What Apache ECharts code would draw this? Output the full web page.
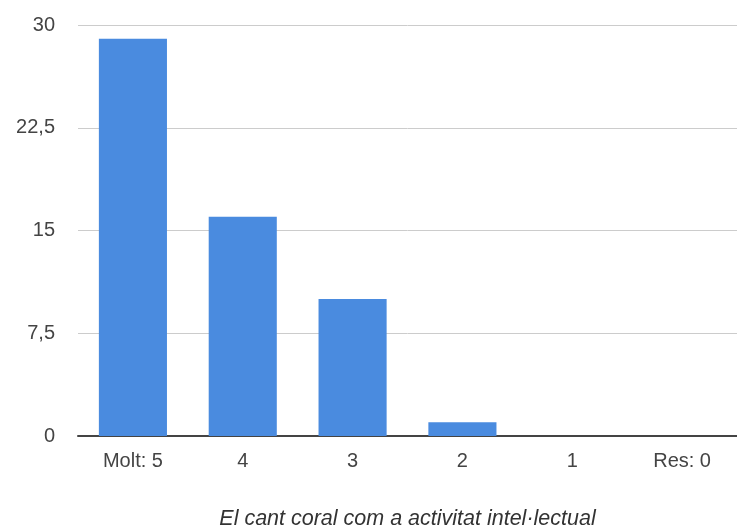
<!DOCTYPE html>
<html>
<head>
<meta charset="utf-8">
<script src="https://cdn.jsdelivr.net/npm/echarts@6/dist/echarts.min.js"></script>
<style>
  html, body { margin: 0; padding: 0; background: #fff; }
  #chart { width: 737px; height: 531px; }
</style>
</head>
<body>
<div id="chart"></div>
<script>
// dades llegides del gràfic
var categories = ["Molt: 5", "4", "3", "2", "1", "Res: 0"];
var values = [29, 16, 10, 1, 0, 0];
var axisTitle = "El cant coral com a activitat intel\u00b7lectual";

var chart = echarts.init(document.getElementById("chart"));

var option = {
  animation: false,
  textStyle: { fontFamily: "Liberation Sans, Arial, sans-serif" },
  grid: {
    left: 78,
    right: 0,
    top: 25,
    bottom: 95,
    outerBoundsMode: "none",
    containLabel: false
  },
  xAxis: {
    type: "category",
    data: categories,
    name: axisTitle,
    nameLocation: "middle",
    nameGap: 72,
    nameTextStyle: {
      color: "#333",
      fontSize: 21.5,
      fontStyle: "italic"
    },
    axisTick: { show: false },
    axisLine: { lineStyle: { color: "#444", width: 2 } },
    axisLabel: {
      color: "#444",
      fontSize: 20,
      margin: 15
    }
  },
  yAxis: {
    type: "value",
    min: 0,
    max: 30,
    interval: 7.5,
    axisLine: { show: false },
    axisTick: { show: false },
    splitLine: { lineStyle: { color: "#ccc", width: 1 } },
    axisLabel: {
      color: "#444",
      fontSize: 20,
      margin: 23,
      formatter: function (v) {
        return String(v).replace(".", ",");
      }
    }
  },
  series: [
    {
      type: "bar",
      data: values,
      barWidth: "62%",
      itemStyle: { color: "#4a8bdf" }
    }
  ]
};

chart.setOption(option);
</script>
</body>
</html>
